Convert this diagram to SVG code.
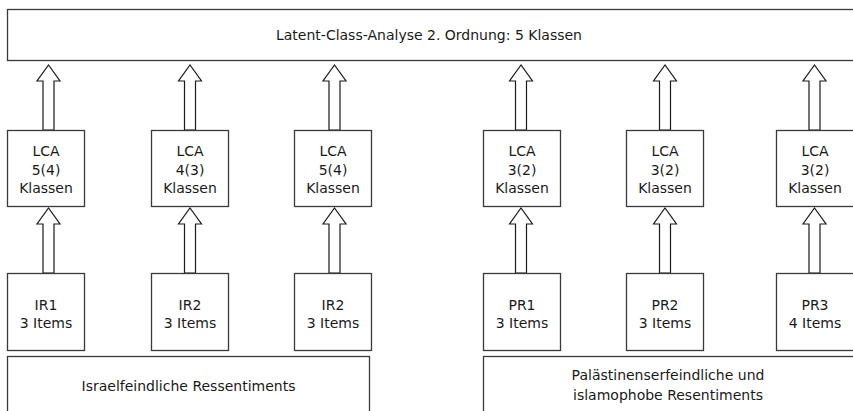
<svg xmlns="http://www.w3.org/2000/svg" width="853" height="411" viewBox="0 0 853 411">
<style>
.box{fill:#fff;stroke:#3a3a3a;stroke-width:1.3}
.arr{fill:#fff;stroke:#1a1a1a;stroke-width:1.2;stroke-linejoin:miter}
text{font-family:"DejaVu Sans",Verdana,sans-serif;font-size:14px;fill:#1a1a1a;text-anchor:middle}
</style>
<rect width="853" height="411" fill="#fff"/>
<g id="top"><rect class="box" x="7.5" y="9.5" width="850" height="51"/><text x="429" y="40">Latent-Class-Analyse 2. Ordnung: 5 Klassen</text></g>
<g id="connectors">
<polygon class="arr" points="43,130 43,81 37,81 48.5,65 60,81 54,81 54,130"/>
<polygon class="arr" points="184.5,130 184.5,81 178.5,81 190,65 201.5,81 195.5,81 195.5,130"/>
<polygon class="arr" points="329,130 329,81 323,81 334.5,65 346,81 340,81 340,130"/>
<polygon class="arr" points="515.5,130 515.5,81 509.5,81 521,65 532.5,81 526.5,81 526.5,130"/>
<polygon class="arr" points="659.5,130 659.5,81 653.5,81 665,65 676.5,81 670.5,81 670.5,130"/>
<polygon class="arr" points="809,130 809,81 803,81 814.5,65 826,81 820,81 820,130"/>
<polygon class="arr" points="43,273 43,224 37,224 48.5,208 60,224 54,224 54,273"/>
<polygon class="arr" points="184.5,273 184.5,224 178.5,224 190,208 201.5,224 195.5,224 195.5,273"/>
<polygon class="arr" points="329,273 329,224 323,224 334.5,208 346,224 340,224 340,273"/>
<polygon class="arr" points="515.5,273 515.5,224 509.5,224 521,208 532.5,224 526.5,224 526.5,273"/>
<polygon class="arr" points="659.5,273 659.5,224 653.5,224 665,208 676.5,224 670.5,224 670.5,273"/>
<polygon class="arr" points="809,273 809,224 803,224 814.5,208 826,224 820,224 820,273"/>
</g>
<g id="lca1"><rect class="box" x="7.5" y="130.5" width="77" height="76"/><text x="46" y="156">LCA</text><text x="46" y="174.5">5(4)</text><text x="46" y="193">Klassen</text></g>
<g id="lca2"><rect class="box" x="151.5" y="130.5" width="77" height="76"/><text x="190" y="156">LCA</text><text x="190" y="174.5">4(3)</text><text x="190" y="193">Klassen</text></g>
<g id="lca3"><rect class="box" x="294.5" y="130.5" width="77" height="76"/><text x="333" y="156">LCA</text><text x="333" y="174.5">5(4)</text><text x="333" y="193">Klassen</text></g>
<g id="lca4"><rect class="box" x="483.5" y="130.5" width="77" height="76"/><text x="522" y="156">LCA</text><text x="522" y="174.5">3(2)</text><text x="522" y="193">Klassen</text></g>
<g id="lca5"><rect class="box" x="626.5" y="130.5" width="77" height="76"/><text x="665" y="156">LCA</text><text x="665" y="174.5">3(2)</text><text x="665" y="193">Klassen</text></g>
<g id="lca6"><rect class="box" x="776.5" y="130.5" width="78" height="76"/><text x="815" y="156">LCA</text><text x="815" y="174.5">3(2)</text><text x="815" y="193">Klassen</text></g>
<g id="ir1"><rect class="box" x="7.5" y="273.5" width="77" height="77"/><text x="46" y="310">IR1</text><text x="46" y="328">3 Items</text></g>
<g id="ir2a"><rect class="box" x="151.5" y="273.5" width="77" height="77"/><text x="190" y="310">IR2</text><text x="190" y="328">3 Items</text></g>
<g id="ir2b"><rect class="box" x="294.5" y="273.5" width="77" height="77"/><text x="333" y="310">IR2</text><text x="333" y="328">3 Items</text></g>
<g id="pr1"><rect class="box" x="483.5" y="273.5" width="77" height="77"/><text x="522" y="310">PR1</text><text x="522" y="328">3 Items</text></g>
<g id="pr2"><rect class="box" x="626.5" y="273.5" width="77" height="77"/><text x="665" y="310">PR2</text><text x="665" y="328">3 Items</text></g>
<g id="pr3"><rect class="box" x="776.5" y="273.5" width="78" height="77"/><text x="815" y="310">PR3</text><text x="815" y="328">4 Items</text></g>
<g id="israel"><rect class="box" x="7.5" y="356.5" width="362" height="60"/><text x="188.5" y="391">Israelfeindliche Ressentiments</text></g>
<g id="pal"><rect class="box" x="483.5" y="356.5" width="372" height="60"/><text x="668" y="380">Palästinenserfeindliche und</text><text x="668" y="400">islamophobe Resentiments</text></g>
</svg>
